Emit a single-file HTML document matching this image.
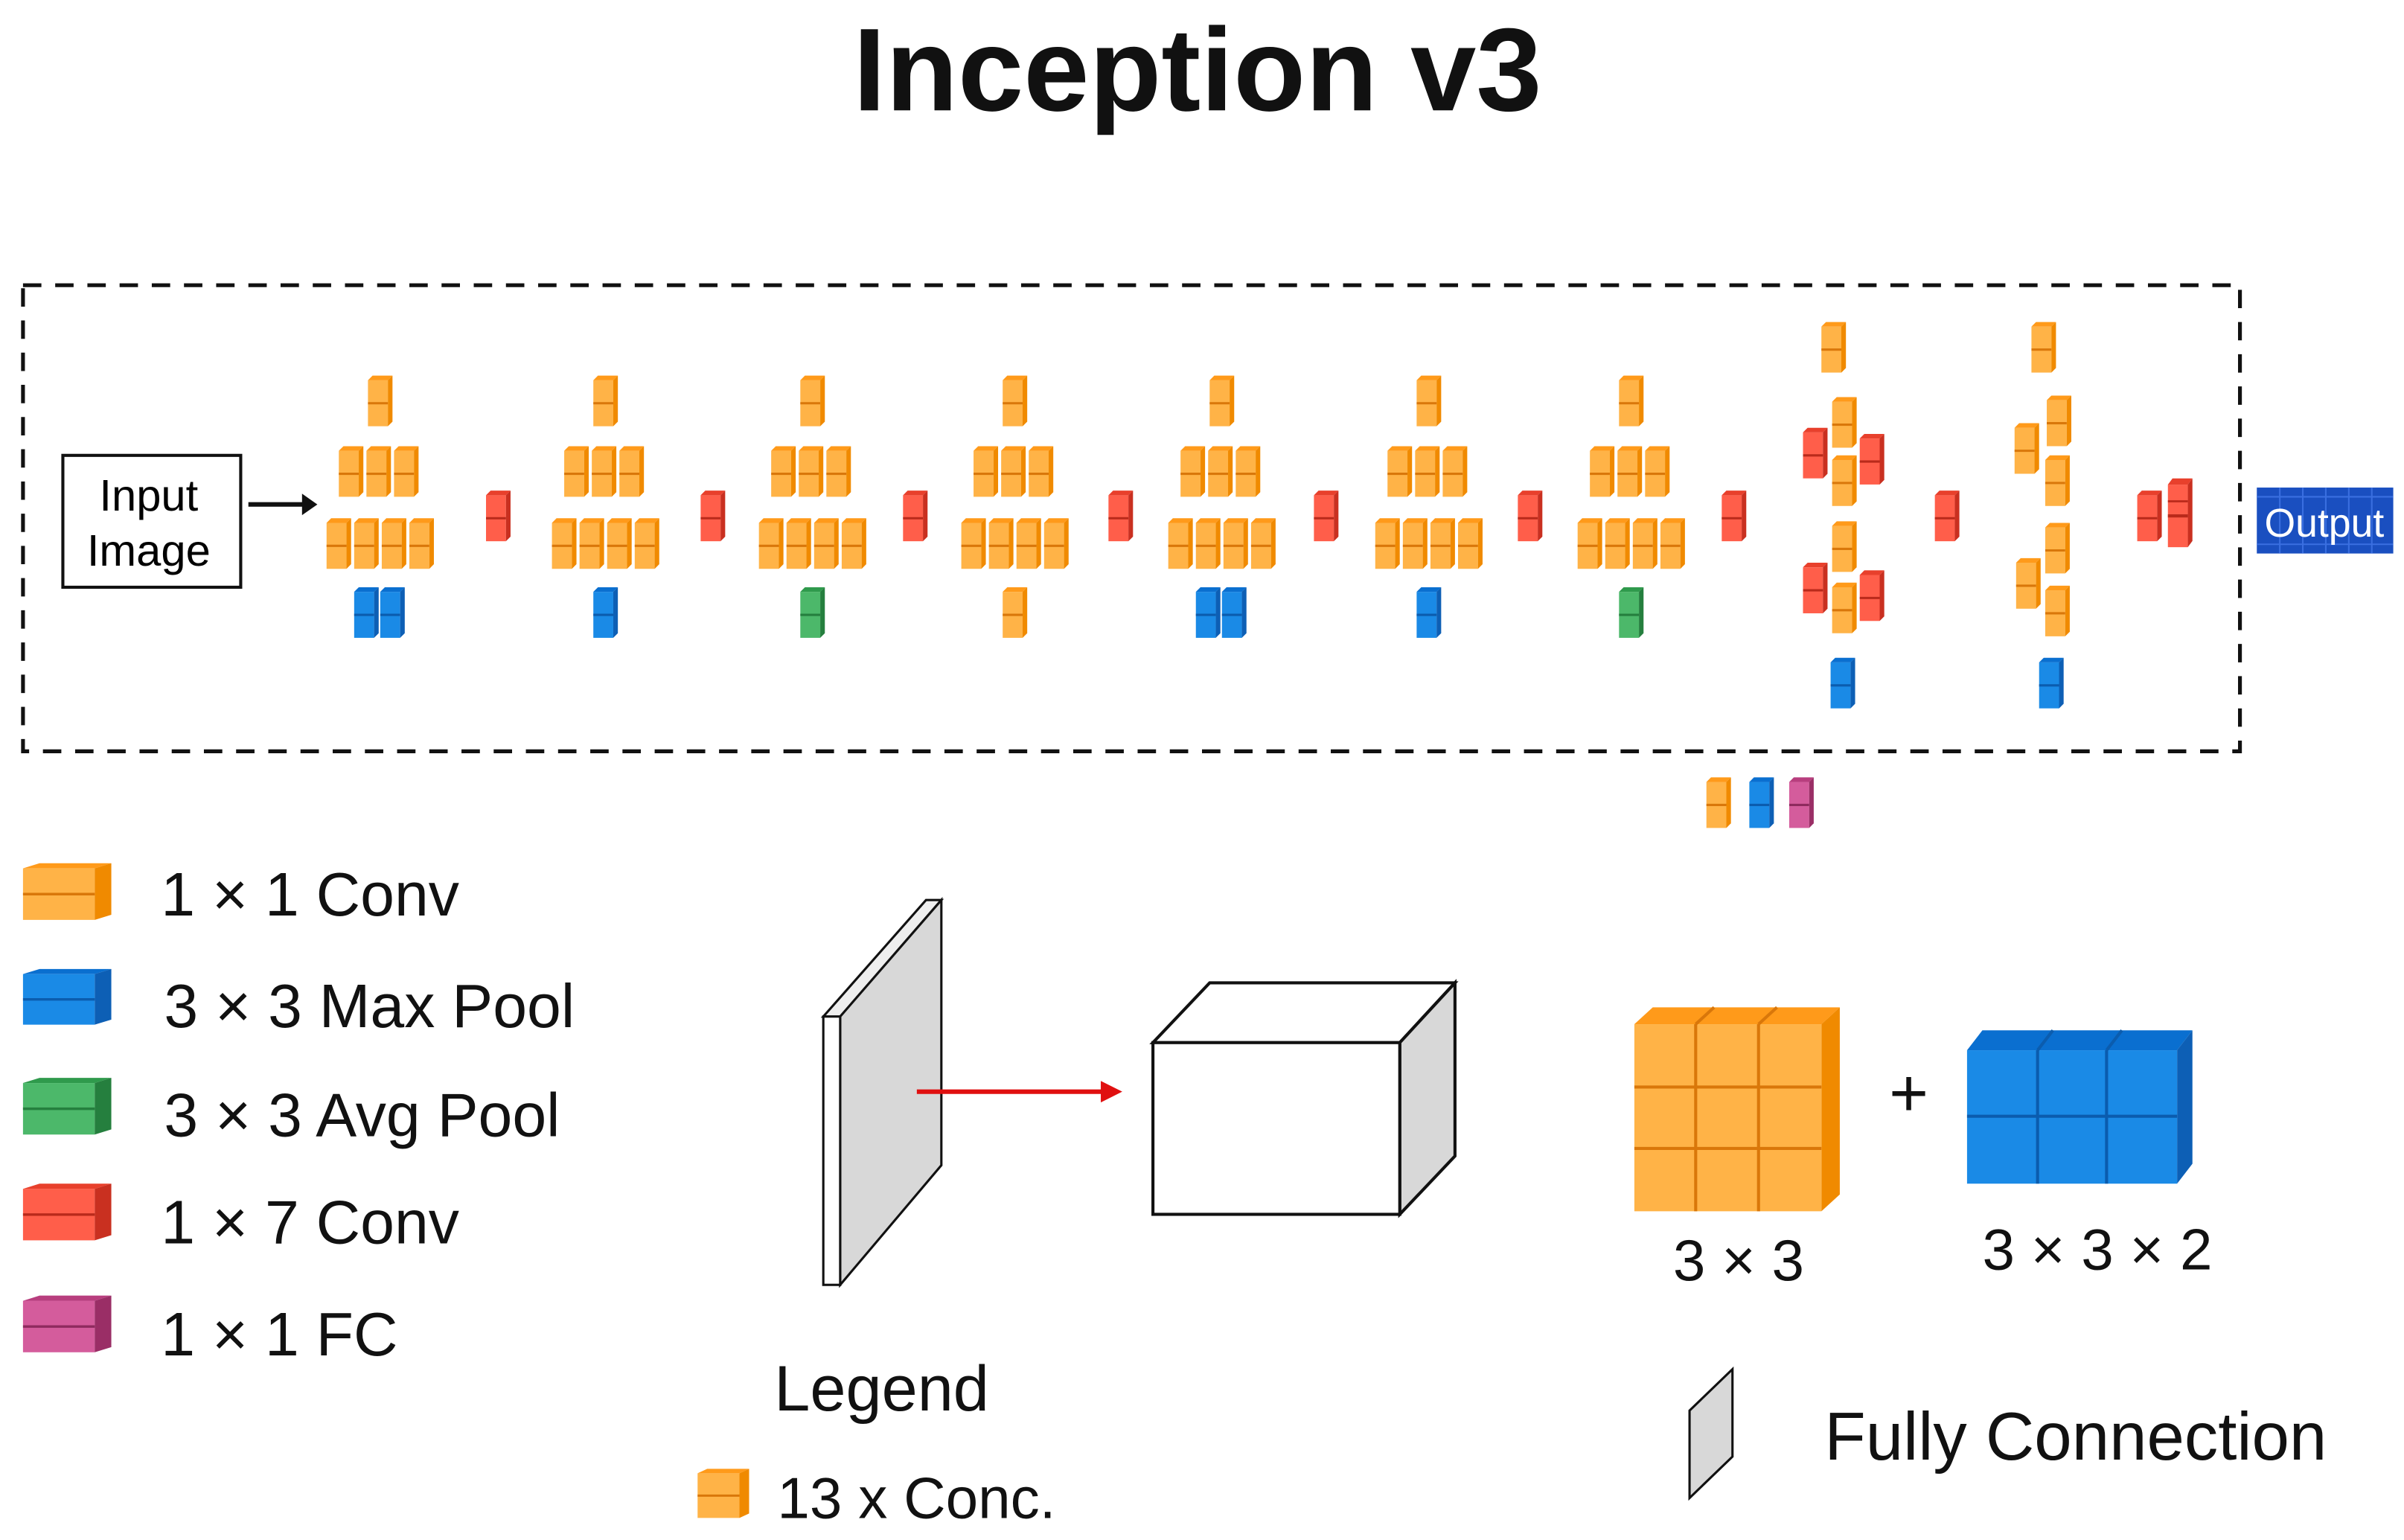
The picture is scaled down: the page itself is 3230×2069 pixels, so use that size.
<!DOCTYPE html>
<html><head><meta charset="utf-8"><style>
html,body{margin:0;padding:0;background:#fff;}
svg{display:block;}
text{font-family:"Liberation Sans","DejaVu Sans",sans-serif;}
</style></head><body>
<svg width="3230" height="2069" viewBox="0 0 1568 1004.4" preserveAspectRatio="none" xmlns="http://www.w3.org/2000/svg">
<defs>
<g id="bo"><rect x="0" y="3" width="13" height="30" fill="#ffb347"/><polygon points="0,3 3,0 16,0 13,3" fill="#ff9a1a"/><polygon points="13,3 16,0 16,30 13,33" fill="#f08a00"/><line x1="0" y1="18" x2="13" y2="18" stroke="#d9770a" stroke-width="1.5"/></g>
<g id="bb"><rect x="0" y="3" width="13" height="30" fill="#1a8ae6"/><polygon points="0,3 3,0 16,0 13,3" fill="#0a6fd0"/><polygon points="13,3 16,0 16,30 13,33" fill="#0d5fb5"/><line x1="0" y1="18" x2="13" y2="18" stroke="#0b5cae" stroke-width="1.5"/></g>
<g id="bg"><rect x="0" y="3" width="13" height="30" fill="#4cb86a"/><polygon points="0,3 3,0 16,0 13,3" fill="#2f9a4c"/><polygon points="13,3 16,0 16,30 13,33" fill="#257f3e"/><line x1="0" y1="18" x2="13" y2="18" stroke="#257f3e" stroke-width="1.5"/></g>
<g id="br"><rect x="0" y="3" width="13" height="30" fill="#ff5e4a"/><polygon points="0,3 3,0 16,0 13,3" fill="#e8402c"/><polygon points="13,3 16,0 16,30 13,33" fill="#c93020"/><line x1="0" y1="18" x2="13" y2="18" stroke="#b92a1b" stroke-width="1.5"/></g>
<g id="bp"><rect x="0" y="3" width="13" height="30" fill="#d45c9c"/><polygon points="0,3 3,0 16,0 13,3" fill="#b83e7e"/><polygon points="13,3 16,0 16,30 13,33" fill="#9a2e66"/><line x1="0" y1="18" x2="13" y2="18" stroke="#8e2a5e" stroke-width="1.5"/></g>
<g id="mod">
<use href="#bo" x="-8" y="245"/>
<use href="#bo" x="-27" y="291"/><use href="#bo" x="-9" y="291"/><use href="#bo" x="9" y="291"/>
<use href="#bo" x="-35" y="338"/><use href="#bo" x="-17" y="338"/><use href="#bo" x="1" y="338"/><use href="#bo" x="19" y="338"/>
</g>
</defs>

<text x="781" y="72" font-size="77" font-weight="bold" text-anchor="middle" fill="#111">Inception v3</text>

<rect x="15" y="186" width="1446" height="304" fill="none" stroke="#111" stroke-width="2.5" stroke-dasharray="12,9"/>

<rect x="41" y="297" width="116" height="86" fill="#fff" stroke="#111" stroke-width="2"/>
<text x="97" y="333" font-size="29" text-anchor="middle">Input</text>
<text x="97" y="369" font-size="29" text-anchor="middle">Image</text>
<line x1="162" y1="329" x2="200" y2="329" stroke="#111" stroke-width="3"/>
<polygon points="207,329 197,322 197,336" fill="#111"/>

<use href="#mod" x="248"/><use href="#bb" x="231" y="383"/><use href="#bb" x="248" y="383"/>
<use href="#mod" x="395"/><use href="#bb" x="387" y="383"/>
<use href="#mod" x="530"/><use href="#bg" x="522" y="383"/>
<use href="#mod" x="662"/><use href="#bo" x="654" y="383"/>
<use href="#mod" x="797"/><use href="#bb" x="780" y="383"/><use href="#bb" x="797" y="383"/>
<use href="#mod" x="932"/><use href="#bb" x="924" y="383"/>
<use href="#mod" x="1064"/><use href="#bg" x="1056" y="383"/>

<use href="#br" x="317" y="320"/><use href="#br" x="457" y="320"/><use href="#br" x="589" y="320"/><use href="#br" x="723" y="320"/>
<use href="#br" x="857" y="320"/><use href="#br" x="990" y="320"/><use href="#br" x="1123" y="320"/><use href="#br" x="1262" y="320"/>

<!-- module 8 -->
<use href="#bo" x="1188" y="210"/>
<use href="#bo" x="1195" y="259"/><use href="#br" x="1176" y="279"/><use href="#br" x="1213" y="283"/><use href="#bo" x="1195" y="297"/>
<use href="#bo" x="1195" y="340"/><use href="#br" x="1176" y="367"/><use href="#br" x="1213" y="372"/><use href="#bo" x="1195" y="380"/>
<use href="#bb" x="1194" y="429"/>
<!-- module 9 -->
<use href="#bo" x="1325" y="210"/>
<use href="#bo" x="1335" y="258"/><use href="#bo" x="1314" y="276"/><use href="#bo" x="1334" y="297"/>
<use href="#bo" x="1334" y="341"/><use href="#bo" x="1315" y="364"/><use href="#bo" x="1334" y="382"/>
<use href="#bb" x="1330" y="429"/>

<use href="#br" x="1394" y="320"/>
<g transform="translate(1414,312) scale(1,1.36)"><use href="#br"/><line x1="0" y1="11" x2="13" y2="11" stroke="#b92a1b" stroke-width="1"/></g>

<rect x="1472" y="318" width="89" height="43" fill="#1a4fc0"/>
<g stroke="#3a6fe0" stroke-width="1"><line x1="1487" y1="318" x2="1487" y2="361"/><line x1="1502" y1="318" x2="1502" y2="361"/><line x1="1517" y1="318" x2="1517" y2="361"/><line x1="1532" y1="318" x2="1532" y2="361"/><line x1="1547" y1="318" x2="1547" y2="361"/><line x1="1472" y1="324" x2="1561" y2="324"/><line x1="1472" y1="355" x2="1561" y2="355"/></g>
<text x="1516" y="350" font-size="26" text-anchor="middle" fill="#fff">Output</text>

<use href="#bo" x="1113" y="507"/><use href="#bb" x="1141" y="507"/><use href="#bp" x="1167" y="507"/>

<!-- left legend -->
<g transform="translate(15,563) scale(3.6,1.12)"><use href="#bo"/></g>
<g transform="translate(15,632) scale(3.6,1.1)"><use href="#bb"/></g>
<g transform="translate(15,703) scale(3.6,1.12)"><use href="#bg"/></g>
<g transform="translate(15,772) scale(3.6,1.12)"><use href="#br"/></g>
<g transform="translate(15,845) scale(3.6,1.12)"><use href="#bp"/></g>
<g font-size="40" fill="#111">
<text x="105" y="597">1 × 1 Conv</text>
<text x="107" y="670">3 × 3 Max Pool</text>
<text x="107" y="741">3 × 3 Avg Pool</text>
<text x="105" y="811">1 × 7 Conv</text>
<text x="105" y="884">1 × 1 FC</text>
</g>

<!-- middle -->
<polygon points="537,663 604,587 614,587 548,663" fill="#eee" stroke="#111" stroke-width="1.5"/>
<polygon points="548,663 614,587 614,760 548,838" fill="#d8d8d8" stroke="#111" stroke-width="1.5"/>
<rect x="537" y="663" width="11" height="175" fill="#fff" stroke="#111" stroke-width="1.5"/>
<line x1="598" y1="712" x2="720" y2="712" stroke="#e01010" stroke-width="3"/>
<polygon points="732,712 718,705 718,719" fill="#e01010"/>
<polygon points="752,680 789,641 949,641 913,680" fill="#fff" stroke="#111" stroke-width="2"/>
<polygon points="913,680 949,641 949,754 913,792" fill="#d8d8d8" stroke="#111" stroke-width="2"/>
<rect x="752" y="680" width="161" height="112" fill="#fff" stroke="#111" stroke-width="2"/>
<text x="505" y="920" font-size="42" fill="#111">Legend</text>
<g transform="translate(455,958) scale(2.1,0.97)"><use href="#bo"/></g>
<text x="507" y="990" font-size="38" fill="#111">13 x Conc.</text>

<!-- right -->
<polygon points="1066,668 1078,657 1200,657 1188,668" fill="#ff9a1a"/>
<polygon points="1188,668 1200,657 1200,779 1188,790" fill="#f08a00"/>
<rect x="1066" y="668" width="122" height="122" fill="#ffb347"/>
<g stroke="#d9770a" stroke-width="2"><line x1="1106" y1="668" x2="1106" y2="790"/><line x1="1147" y1="668" x2="1147" y2="790"/><line x1="1066" y1="709" x2="1188" y2="709"/><line x1="1066" y1="749" x2="1188" y2="749"/><line x1="1106" y1="668" x2="1118" y2="657"/><line x1="1147" y1="668" x2="1159" y2="657"/></g>
<text x="1245" y="728" font-size="44" text-anchor="middle" fill="#111">+</text>
<polygon points="1283,685 1293,672 1430,672 1420,685" fill="#0a6fd0"/>
<polygon points="1420,685 1430,672 1430,759 1420,772" fill="#0d5fb5"/>
<rect x="1283" y="685" width="137" height="87" fill="#1a8ae6"/>
<g stroke="#0b5cae" stroke-width="2"><line x1="1329" y1="685" x2="1329" y2="772"/><line x1="1374" y1="685" x2="1374" y2="772"/><line x1="1283" y1="728" x2="1420" y2="728"/><line x1="1329" y1="685" x2="1339" y2="672"/><line x1="1374" y1="685" x2="1384" y2="672"/></g>
<text x="1134" y="835" font-size="38" text-anchor="middle" fill="#111">3 × 3</text>
<text x="1368" y="828" font-size="38" text-anchor="middle" fill="#111">3 × 3 × 2</text>
<polygon points="1102,920 1130,893 1130,950 1102,977" fill="#d8d8d8" stroke="#111" stroke-width="1.5"/>
<text x="1190" y="952" font-size="44" fill="#111">Fully Connection</text>
</svg>
</body></html>
